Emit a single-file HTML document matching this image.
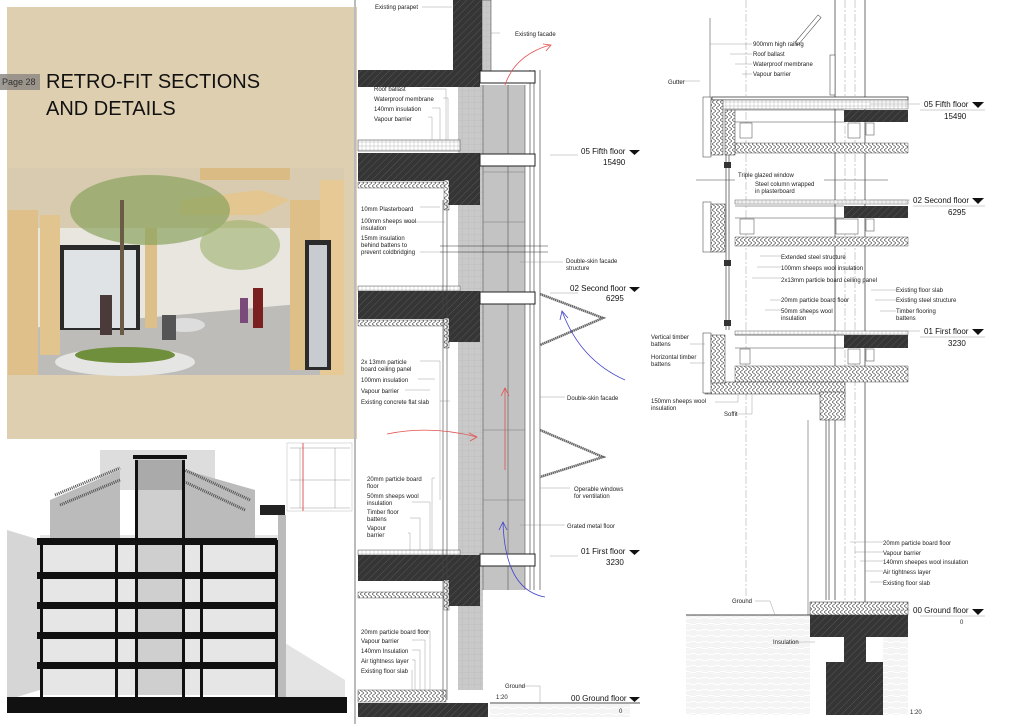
<!DOCTYPE html>
<html><head><meta charset="utf-8"><style>
html,body{margin:0;padding:0;background:#fff;}
svg{display:block}
text{font-family:"Liberation Sans",sans-serif;font-size:6px;fill:#222}
.lv{font-size:8px;fill:#111}
</style></head><body>
<svg width="1024" height="724" viewBox="0 0 1024 724" xmlns="http://www.w3.org/2000/svg">
<defs>
<pattern id="conc" width="5" height="5" patternUnits="userSpaceOnUse" patternTransform="rotate(45)">
<rect width="5" height="5" fill="#353535"/><line x1="0" y1="0" x2="0" y2="5" stroke="#555" stroke-width="1"/></pattern>
<pattern id="ins" width="4" height="6" patternUnits="userSpaceOnUse">
<rect width="4" height="6" fill="#fff"/><path d="M0 0 L4 3 L0 6" fill="none" stroke="#444" stroke-width="0.6"/></pattern>
<pattern id="grid" width="6" height="6" patternUnits="userSpaceOnUse">
<rect width="6" height="6" fill="#c9c9c9"/><path d="M0 0H6M0 0V6" stroke="#b4b4b4" stroke-width="0.5"/></pattern>
<pattern id="ground" width="12" height="12" patternUnits="userSpaceOnUse">
<rect width="12" height="12" fill="#fff"/><path d="M1 0V6M3 0V6M5 0V6M6 2H12M6 4H12M0 8H6M0 10H6M7 6V12M9 6V12M11 6V12" stroke="#d4d4d4" stroke-width="0.5"/></pattern>
<pattern id="roof" width="4" height="4" patternUnits="userSpaceOnUse">
<rect width="4" height="4" fill="#fff"/><path d="M0 2H4M2 0V4" stroke="#aaa" stroke-width="0.4"/></pattern>
</defs>

<!-- LEFT BEIGE PANEL -->
<rect x="7" y="7" width="350" height="432" fill="#dfcfb1"/>
<rect x="0" y="74" width="40" height="16" fill="#8e8a84" opacity="0.85"/>
<text x="2" y="85" style="font-size:9px;fill:#333">Page 28</text>
<text x="46" y="88" style="font-size:20px;fill:#111">RETRO-FIT SECTIONS</text>
<text x="46" y="115" style="font-size:20px;fill:#111">AND DETAILS</text>

<!-- render image -->
<g>
<rect x="8" y="168" width="336" height="207" fill="#e9e6e0"/>
<rect x="8" y="168" width="336" height="60" fill="#d8cbb0"/>
<polygon points="8,330 344,300 344,375 8,375" fill="#bdbcb8"/>
<rect x="60" y="245" width="80" height="85" fill="#2a2a2a"/>
<rect x="64" y="250" width="72" height="78" fill="#dfe3e5"/>
<rect x="8" y="210" width="30" height="165" fill="#e0c08a"/>
<rect x="40" y="215" width="20" height="140" fill="#e2c48e"/>
<rect x="145" y="228" width="12" height="100" fill="#ddbf8a"/>
<rect x="290" y="200" width="30" height="170" fill="#dfbf88"/>
<rect x="320" y="180" width="24" height="195" fill="#e6c995"/>
<rect x="305" y="240" width="26" height="130" fill="#2b2b2b"/>
<rect x="309" y="245" width="18" height="122" fill="#c8ccd0"/>
<polygon points="180,200 260,190 290,200 260,215 180,215" fill="#e3c690"/>
<rect x="200" y="168" width="90" height="12" fill="#d9bb83"/>
<ellipse cx="150" cy="210" rx="80" ry="35" fill="#8aa35e" opacity="0.7"/>
<ellipse cx="240" cy="245" rx="40" ry="25" fill="#9cb36a" opacity="0.6"/>
<rect x="120" y="200" width="4" height="135" fill="#6b5a45"/>
<ellipse cx="125" cy="362" rx="70" ry="14" fill="#e5e5e3"/>
<ellipse cx="125" cy="355" rx="50" ry="8" fill="#6f8f3c"/>
<ellipse cx="185" cy="325" rx="20" ry="7" fill="#ddd"/>
<rect x="100" y="295" width="12" height="40" fill="#4a3a3a"/>
<rect x="162" y="315" width="14" height="25" fill="#555"/>
<rect x="253" y="288" width="10" height="40" fill="#7a2020"/>
<rect x="240" y="298" width="8" height="25" fill="#7a4a7a"/>
</g>

<!-- BOTTOM LEFT SECTION -->
<g>
<rect x="7" y="445" width="348" height="270" fill="#fff"/>
<polygon points="7,530 40,540 40,690 7,700" fill="#d6d6d6"/>
<polygon points="280,640 345,680 345,700 280,700" fill="#e4e4e4"/>
<rect x="40" y="535" width="240" height="160" fill="#e6e6e6"/>
<rect x="100" y="450" width="115" height="40" fill="#ddd"/>
<polygon points="50,500 120,470 120,540 50,540" fill="#bbb"/>
<polygon points="255,490 185,470 185,540 255,540" fill="#bbb"/>
<path d="M55,495 L120,468 M60,505 L120,480 M250,500 L185,470 M245,510 L185,482" stroke="#555" stroke-width="3" stroke-dasharray="1 1"/>
<rect x="135" y="455" width="50" height="240" fill="#cfcfcf"/>
<rect x="138" y="460" width="44" height="30" fill="#aaa"/>
<g fill="#111">
<rect x="37" y="538" width="240" height="7"/>
<rect x="37" y="572" width="240" height="7"/>
<rect x="37" y="602" width="240" height="7"/>
<rect x="37" y="632" width="240" height="7"/>
<rect x="37" y="662" width="240" height="7"/>
<rect x="7" y="697" width="340" height="16"/>
<rect x="40" y="540" width="3" height="157"/>
<rect x="115" y="540" width="3" height="157"/>
<rect x="135" y="460" width="3" height="237"/>
<rect x="182" y="460" width="3" height="237"/>
<rect x="200" y="540" width="3" height="157"/>
<rect x="275" y="540" width="3" height="157"/>
<rect x="133" y="455" width="54" height="4"/>
</g>
<rect x="278" y="515" width="8" height="182" fill="#bbb"/>
<rect x="260" y="505" width="25" height="10" fill="#222"/>
<rect x="287" y="443" width="65" height="68" fill="#fff" stroke="#bbb" stroke-width="0.5"/>
<path d="M290,448H350M290,480H350M290,508H350M300,448V508M335,448V508" stroke="#999" stroke-width="0.5"/>
<line x1="303" y1="443" x2="303" y2="511" stroke="#d33" stroke-width="0.8"/>
</g>
<line x1="355" y1="0" x2="355" y2="724" stroke="#bbb" stroke-width="2"/>

<!-- MIDDLE SECTION -->
<g>
<rect x="458" y="85" width="25" height="605" fill="url(#grid)"/>
<rect x="483" y="85" width="42" height="505" fill="#c3c3c3"/>
<path d="M483,85V590M508,85V590M525,85V590" stroke="#555" stroke-width="0.6"/>
<path d="M483,172H525M483,222H525M483,430H525M483,500H525" stroke="#777" stroke-width="0.5"/>
<path d="M530,70V590M534,70V590M540,70V590" stroke="#333" stroke-width="0.6"/>
<rect x="453" y="0" width="29" height="72" fill="url(#conc)"/>
<rect x="482" y="0" width="9" height="72" fill="url(#grid)" stroke="#333" stroke-width="0.5"/>
<!-- roof -->
<rect x="358" y="70" width="122" height="17" fill="url(#conc)"/>
<rect x="480" y="71" width="55" height="12" fill="#fff" stroke="#222"/>
<rect x="358" y="140" width="102" height="11" fill="url(#roof)" stroke="#333" stroke-width="0.5"/>
<!-- fifth -->
<rect x="358" y="153" width="122" height="28" fill="url(#conc)"/>
<rect x="447" y="180" width="33" height="25" fill="url(#conc)"/>
<rect x="480" y="154" width="55" height="12" fill="#fff" stroke="#222"/>
<rect x="358" y="182" width="88" height="6" fill="url(#ins)" stroke="#333" stroke-width="0.4"/>
<rect x="444" y="180" width="5" height="30" fill="url(#ins)" stroke="#333" stroke-width="0.4"/>
<!-- second -->
<rect x="358" y="286" width="102" height="5" fill="url(#roof)" stroke="#333" stroke-width="0.4"/>
<rect x="358" y="291" width="122" height="28" fill="url(#conc)"/>
<rect x="447" y="318" width="33" height="24" fill="url(#conc)"/>
<rect x="480" y="292" width="55" height="12" fill="#fff" stroke="#222"/>
<rect x="358" y="320" width="88" height="6" fill="url(#ins)" stroke="#333" stroke-width="0.4"/>
<rect x="444" y="318" width="5" height="30" fill="url(#ins)" stroke="#333" stroke-width="0.4"/>
<!-- first -->
<rect x="358" y="550" width="102" height="5" fill="url(#roof)" stroke="#333" stroke-width="0.4"/>
<rect x="358" y="555" width="122" height="26" fill="url(#conc)"/>
<rect x="447" y="580" width="33" height="26" fill="url(#conc)"/>
<rect x="480" y="554" width="55" height="12" fill="#fff" stroke="#222"/>
<rect x="358" y="592" width="88" height="6" fill="url(#ins)" stroke="#333" stroke-width="0.4"/>
<rect x="444" y="580" width="5" height="30" fill="url(#ins)" stroke="#333" stroke-width="0.4"/>
<!-- ground -->
<rect x="358" y="690" width="88" height="12" fill="url(#ins)" stroke="#333" stroke-width="0.4"/>
<rect x="358" y="703" width="130" height="14" fill="url(#conc)"/>
<rect x="490" y="704" width="140" height="13" fill="url(#ground)"/>
<line x1="490" y1="703" x2="640" y2="703" stroke="#111" stroke-width="0.8"/>
<path d="M443,200V700M447,200V700" stroke="#444" stroke-width="0.6"/>
<line x1="440" y1="246" x2="548" y2="246" stroke="#333" stroke-width="0.5"/>
<line x1="440" y1="252" x2="548" y2="252" stroke="#333" stroke-width="0.5"/>
<!-- operable windows -->
<path d="M540,294L603,318L540,345" fill="none" stroke="#666" stroke-width="2.5" stroke-dasharray="1.5 .5"/>
<path d="M540,430L603,457L540,477" fill="none" stroke="#666" stroke-width="2.5" stroke-dasharray="1.5 .5"/>
<!-- arrows -->
<g fill="none" stroke="#e05050" stroke-width="0.8">
<path d="M505,85 Q515,55 550,45"/><path d="M543,44L551,45L546,51"/>
<path d="M505,470 Q505,420 505,388"/><path d="M501,396L505,388L509,396"/>
<path d="M387,434 Q430,425 477,437"/><path d="M469,433L477,437L470,441"/>
</g>
<g fill="none" stroke="#4444cc" stroke-width="0.8">
<path d="M625,380 Q580,360 562,311"/><path d="M560,320L562,311L568,318"/>
<path d="M545,597 Q505,590 503,522"/><path d="M499,530L503,522L507,530"/>
</g>
<!-- leader lines -->
<g stroke="#888" stroke-width="0.4" fill="none">
<path d="M422,7H452M500,33H491M420,89H446V140M443,98H448V140M432,108H440V140M428,117H432V140"/>
<path d="M420,207H440M405,222H445M420,252H442M563,262H520M420,361H440V500M418,379H435M405,390H430M450,401H440"/>
<path d="M565,397H540M570,488H540M565,525H520M435,478H432V550M412,502H430V550M410,518H420V550M408,533H410V550M420,631H430V690M412,640H425V690M412,650H420V690M412,660H415V690M412,670H412V690M520,686H540V703M550,155H578M550,293H578M550,556H578"/>
</g>
<g>
<text x="375" y="9">Existing parapet</text>
<text x="515" y="36">Existing facade</text>
<text x="374" y="91">Roof ballast</text>
<text x="374" y="101">Waterproof membrane</text>
<text x="374" y="111">140mm insulation</text>
<text x="374" y="121">Vapour barrier</text>
<text x="361" y="211">10mm Plasterboard</text>
<text x="361" y="223">100mm sheeps wool</text>
<text x="361" y="230">insulation</text>
<text x="361" y="240">15mm insulation</text>
<text x="361" y="247">behind battens to</text>
<text x="361" y="254">prevent coldbridging</text>
<text x="566" y="263">Double-skin facade</text>
<text x="566" y="270">structure</text>
<text x="361" y="364">2x 13mm particle</text>
<text x="361" y="371">board ceiling panel</text>
<text x="361" y="382">100mm insulation</text>
<text x="361" y="393">Vapour barrier</text>
<text x="361" y="404">Existing concrete flat slab</text>
<text x="567" y="400">Double-skin facade</text>
<text x="367" y="481">20mm particle board</text>
<text x="367" y="488">floor</text>
<text x="367" y="498">50mm sheeps wool</text>
<text x="367" y="505">insulation</text>
<text x="367" y="514">Timber floor</text>
<text x="367" y="521">battens</text>
<text x="367" y="530">Vapour</text>
<text x="367" y="537">barrier</text>
<text x="574" y="491">Operable windows</text>
<text x="574" y="498">for ventilation</text>
<text x="567" y="528">Grated metal floor</text>
<text x="361" y="634">20mm particle board floor</text>
<text x="361" y="643">Vapour barrier</text>
<text x="361" y="653">140mm Insulation</text>
<text x="361" y="663">Air tightness layer</text>
<text x="361" y="673">Existing floor slab</text>
<text x="505" y="688">Ground</text>
<text x="496" y="699">1:20</text>
<text x="619" y="713">0</text>
<text class="lv" x="581" y="154">05 Fifth floor</text>
<text class="lv" x="603" y="165">15490</text>
<text class="lv" x="570" y="291">02 Second floor</text>
<text class="lv" x="606" y="301">6295</text>
<text class="lv" x="581" y="554">01 First floor</text>
<text class="lv" x="606" y="565">3230</text>
<text class="lv" x="571" y="701">00 Ground floor</text>
</g>
<g fill="#111">
<polygon points="629,150 640,150 634.5,155"/>
<polygon points="629,287 640,287 634.5,292"/>
<polygon points="629,550 640,550 634.5,555"/>
<polygon points="629,697 640,697 634.5,702"/>
</g>
</g>

<!-- RIGHT SECTION -->
<g>
<path d="M746,0V600M845,0V620M855,0V620" stroke="#999" stroke-width="0.5" stroke-dasharray="8 2 2 2"/>
<path d="M835,0V600M865,0V620" stroke="#333" stroke-width="0.7"/>
<line x1="710" y1="18" x2="710" y2="97" stroke="#555" stroke-width="0.6"/>
<rect x="806" y="12" width="4" height="36" fill="#fff" stroke="#333" stroke-width="0.5" transform="rotate(40 808 30)"/>
<rect x="830" y="55" width="5" height="40" fill="#fff" stroke="#333" stroke-width="0.5"/>
<!-- roof -->
<rect x="712" y="97" width="196" height="3" fill="#fff" stroke="#222" stroke-width="0.7"/>
<rect x="712" y="100" width="196" height="9" fill="url(#roof)" stroke="#333" stroke-width="0.4"/>
<rect x="844" y="110" width="64" height="12" fill="url(#conc)"/>
<path d="M735,110H844M735,122H844" stroke="#444" stroke-width="0.6"/>
<rect x="735" y="143" width="173" height="10" fill="url(#ins)" stroke="#333" stroke-width="0.4"/>
<!-- second -->
<rect x="735" y="200" width="173" height="4" fill="url(#roof)" stroke="#333" stroke-width="0.4"/>
<rect x="844" y="206" width="64" height="12" fill="url(#conc)"/>
<path d="M735,206H844M735,218H844" stroke="#444" stroke-width="0.6"/>
<rect x="735" y="237" width="173" height="9" fill="url(#ins)" stroke="#333" stroke-width="0.4"/>
<!-- first -->
<rect x="735" y="331" width="173" height="4" fill="url(#roof)" stroke="#333" stroke-width="0.4"/>
<rect x="844" y="335" width="64" height="13" fill="url(#conc)"/>
<path d="M735,335H844M735,348H844" stroke="#444" stroke-width="0.6"/>
<rect x="735" y="366" width="173" height="16" fill="url(#ins)" stroke="#333" stroke-width="0.4"/>
<rect x="705" y="382" width="140" height="12" fill="url(#ins)" stroke="#333" stroke-width="0.5"/>
<rect x="820" y="392" width="25" height="28" fill="url(#ins)" stroke="#333" stroke-width="0.5"/>
<!-- steel beams -->
<g fill="#fff" stroke="#444" stroke-width="0.5">
<rect x="740" y="123" width="12" height="15"/><rect x="848" y="123" width="12" height="15"/><rect x="866" y="123" width="8" height="12"/>
<rect x="740" y="219" width="14" height="15"/><rect x="836" y="219" width="22" height="15"/><rect x="866" y="219" width="8" height="12"/>
<rect x="740" y="349" width="10" height="15"/><rect x="848" y="349" width="12" height="15"/><rect x="866" y="349" width="8" height="12"/>
</g>
<!-- left wall -->
<rect x="703" y="97" width="8" height="60" fill="#fff" stroke="#333" stroke-width="0.5"/>
<rect x="711" y="100" width="12" height="55" fill="url(#ins)" stroke="#333" stroke-width="0.5"/>
<rect x="725" y="110" width="10" height="45" fill="url(#ins)" stroke="#333" stroke-width="0.5"/>
<rect x="703" y="202" width="8" height="50" fill="#fff" stroke="#333" stroke-width="0.5"/>
<rect x="711" y="204" width="14" height="48" fill="url(#ins)" stroke="#333" stroke-width="0.5"/>
<rect x="703" y="333" width="8" height="60" fill="#fff" stroke="#333" stroke-width="0.5"/>
<rect x="711" y="335" width="14" height="48" fill="url(#ins)" stroke="#333" stroke-width="0.5"/>
<path d="M726,155V330M729,155V330" stroke="#444" stroke-width="0.7"/>
<rect x="724" y="162" width="7" height="6" fill="#333"/>
<rect x="724" y="260" width="7" height="6" fill="#333"/>
<rect x="724" y="320" width="7" height="6" fill="#333"/>
<path d="M826,420V600M829,420V600" stroke="#444" stroke-width="0.7"/>
<line x1="808" y1="420" x2="808" y2="615" stroke="#444" stroke-width="0.5"/>
<line x1="696" y1="180" x2="735" y2="180" stroke="#444" stroke-width="0.5"/>
<line x1="824" y1="180" x2="888" y2="180" stroke="#444" stroke-width="0.5"/>
<!-- ground -->
<rect x="686" y="615" width="124" height="100" fill="url(#ground)"/>
<rect x="883" y="637" width="25" height="78" fill="url(#ground)"/>
<line x1="686" y1="615" x2="810" y2="615" stroke="#111" stroke-width="0.8"/>
<rect x="810" y="602" width="98" height="13" fill="url(#ins)" stroke="#333" stroke-width="0.5"/>
<rect x="810" y="615" width="98" height="22" fill="url(#conc)"/>
<rect x="844" y="637" width="22" height="25" fill="url(#conc)"/>
<rect x="826" y="662" width="57" height="53" fill="url(#conc)"/>
<g stroke="#888" stroke-width="0.4" fill="none">
<path d="M710,44H752M730,54H752M735,64H752M742,74H752M678,81H700M760,256H781M757,267H781M752,278H781M770,300H781M765,310H781M871,290H896M875,300H896M880,311H896M690,344H705M690,363H705M715,402H738V395M735,414H752V395M850,542H883M855,552H883M860,561H883M865,571H883M870,582H883M755,601H770L775,615M790,642H815M870,104H920M870,200H910M870,331H920M870,610H910"/>
</g>
<g>
<text x="753" y="46">900mm high railing</text>
<text x="753" y="56">Roof ballast</text>
<text x="753" y="66">Waterproof membrane</text>
<text x="753" y="76">Vapour barrier</text>
<text x="668" y="84">Gutter</text>
<text x="738" y="177">Triple glazed window</text>
<text x="755" y="186">Steel column wrapped</text>
<text x="755" y="193">in plasterboard</text>
<text x="781" y="259">Extended steel structure</text>
<text x="781" y="270">100mm sheeps wool insulation</text>
<text x="781" y="282">2x13mm particle board ceiling panel</text>
<text x="781" y="302">20mm particle board floor</text>
<text x="781" y="313">50mm sheeps wool</text>
<text x="781" y="320">insulation</text>
<text x="896" y="292">Existing floor slab</text>
<text x="896" y="302">Existing steel structure</text>
<text x="896" y="313">Timber flooring</text>
<text x="896" y="320">battens</text>
<text x="651" y="339">Vertical timber</text>
<text x="651" y="346">battens</text>
<text x="651" y="359">Horizontal timber</text>
<text x="651" y="366">battens</text>
<text x="651" y="403">150mm sheeps wool</text>
<text x="651" y="410">insulation</text>
<text x="724" y="416">Soffit</text>
<text x="883" y="545">20mm particle board floor</text>
<text x="883" y="555">Vapour barrier</text>
<text x="883" y="564">140mm sheepes wool insulation</text>
<text x="883" y="574">Air tightness layer</text>
<text x="883" y="585">Existing floor slab</text>
<text x="732" y="603">Ground</text>
<text x="773" y="644">Insulation</text>
<text x="910" y="714">1:20</text>
<text x="960" y="624">0</text>
<text class="lv" x="924" y="107">05 Fifth floor</text>
<text class="lv" x="944" y="119">15490</text>
<text class="lv" x="913" y="203">02 Second floor</text>
<text class="lv" x="948" y="215">6295</text>
<text class="lv" x="924" y="334">01 First floor</text>
<text class="lv" x="948" y="346">3230</text>
<text class="lv" x="913" y="613">00 Ground floor</text>
</g>
<g fill="#111">
<polygon points="972,102 984,102 978,108"/>
<polygon points="972,198 984,198 978,204"/>
<polygon points="972,329 984,329 978,335"/>
<polygon points="972,609 984,609 978,615"/>
</g>
<path d="M920,110H985M913,206H985M920,337H985M920,616H985" stroke="#888" stroke-width="0.4"/>
</g>
</svg>
</body></html>
